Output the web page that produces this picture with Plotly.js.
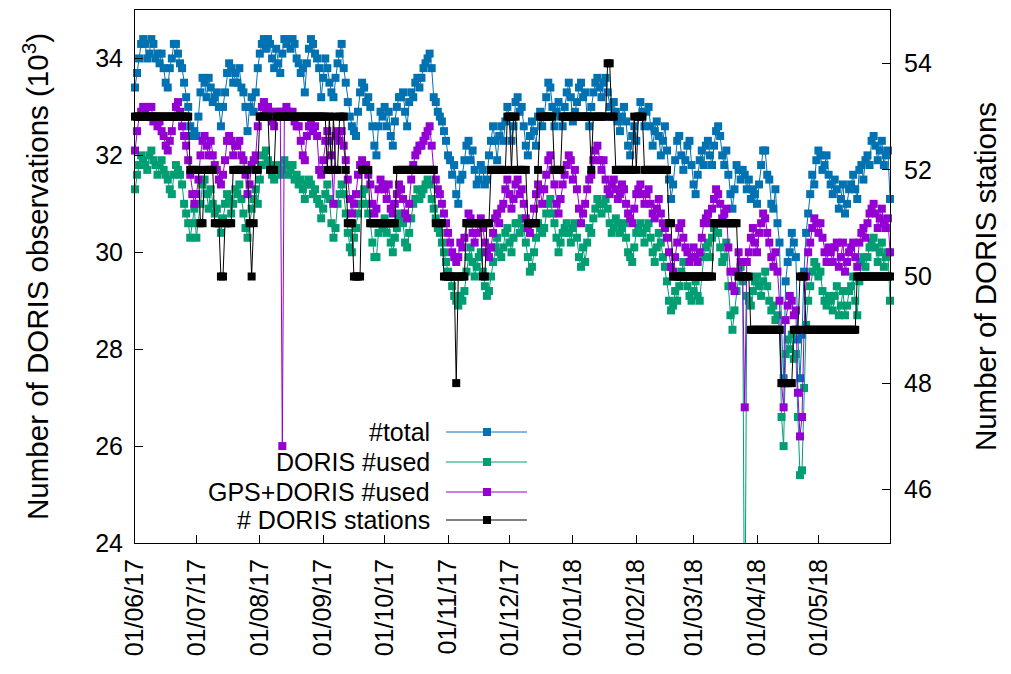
<!DOCTYPE html>
<html>
<head>
<meta charset="utf-8">
<script src="https://cdn.plot.ly/plotly-3.0.1.min.js"></script>
<style>html,body{margin:0;padding:0;background:#fff;}#chart{width:1011px;height:674px;}</style>
</head>
<body>
<div id="chart"></div>
<script>
// ---- data (daily, starting 2017-06-01) ----
const startDate = '2017-06-01';

const totalObs = [
33.4,33.7,34.0,34.3,34.4,34.3,34.0,34.1,34.4,34.3,
34.0,34.1,33.9,34.1,33.8,33.5,33.4,33.8,34.0,34.3,
34.3,34.1,33.9,33.8,33.5,33.2,33.0,32.6,32.4,32.5,
32.4,32.8,33.3,33.6,33.5,33.2,33.6,33.4,33.1,33.2,
33.3,33.0,32.6,33.0,33.3,33.7,33.9,33.8,33.5,33.7,
33.5,33.8,33.4,33.3,33.0,32.5,33.0,33.2,32.9,33.3,
33.8,34.1,34.3,34.4,34.2,34.4,34.3,34.0,33.8,34.2,
33.9,33.7,34.1,34.4,34.3,34.4,34.2,34.4,34.3,34.0,
33.9,33.7,33.8,33.3,33.9,34.2,34.4,34.3,34.1,34.0,
33.8,33.2,33.6,34.0,33.8,33.5,33.3,33.2,33.6,33.9,
34.1,34.3,33.8,33.5,33.1,32.8,32.6,32.5,32.4,32.9,
33.3,33.5,33.4,33.1,33.2,33.0,32.6,32.2,32.0,32.6,
32.9,32.8,33.0,32.6,32.9,32.4,32.2,32.7,33.0,33.2,
33.2,33.3,32.9,32.6,33.1,33.3,33.2,33.5,33.6,33.4,
33.6,33.8,33.9,34.0,34.1,33.8,33.2,33.1,32.9,32.8,
32.7,32.5,32.3,32.0,31.9,31.6,31.8,31.2,31.0,31.5,
31.6,31.9,32.2,32.3,31.9,32.1,31.7,31.4,31.5,31.8,
31.7,31.4,31.5,32.0,32.3,32.6,32.3,31.9,32.4,32.6,
32.3,32.7,33.0,32.8,32.3,32.6,33.1,33.2,32.9,33.0,
32.6,32.2,32.0,32.4,32.7,32.5,32.2,32.8,32.9,32.6,
32.8,33.2,33.5,33.4,33.0,32.6,32.9,33.1,32.8,32.6,
33.0,33.3,33.5,33.2,32.7,32.9,33.1,33.4,33.5,33.2,
33.3,32.8,32.6,33.0,33.3,33.5,33.6,33.4,33.2,33.5,
33.6,33.3,33.0,32.8,33.1,32.9,32.7,32.5,32.8,33.0,
32.7,32.2,32.0,32.4,32.6,32.3,32.8,33.1,32.9,32.6,
32.9,33.0,32.6,32.2,32.5,32.7,32.4,32.0,32.3,32.6,
32.1,31.5,31.1,31.4,31.9,32.3,32.4,32.0,31.7,31.9,
32.2,32.3,31.8,31.4,31.2,31.6,31.9,32.1,31.8,32.2,
32.3,32.0,31.8,32.2,32.5,32.6,32.4,32.0,31.8,32.1,
31.6,31.2,30.9,31.3,31.8,31.7,31.5,31.7,31.6,31.3,
31.5,31.1,31.3,31.2,31.0,31.4,31.8,32.1,32.1,31.6,
31.5,31.0,30.9,31.3,30.6,30.2,28.4,27.4,29.4,29.8,
30.0,30.4,30.2,29.9,28.2,27.4,28.3,29.6,30.4,30.8,
31.2,31.6,31.4,31.9,32.1,32.0,31.7,31.8,32.0,31.6,
31.4,31.2,31.5,31.3,30.9,31.1,31.4,30.8,31.0,31.3,
31.4,31.6,31.3,31.1,31.7,31.8,31.5,31.9,32.0,31.8,
32.3,32.4,32.2,31.9,32.1,32.3,31.8,32.0,32.1,31.1
];

const dorisUsed = [
31.3,31.6,31.8,32.0,31.9,31.8,31.7,32.0,32.1,31.9,
31.8,31.6,31.8,31.9,31.7,31.6,31.5,31.3,31.2,31.6,
31.8,31.7,31.6,31.4,31.0,30.8,30.6,30.3,30.6,30.9,
30.3,30.6,31.0,31.4,31.5,31.2,30.9,31.3,31.0,30.8,
30.9,30.6,30.4,30.7,31.0,31.2,31.1,30.8,31.0,31.3,
31.2,31.4,31.1,30.8,30.5,30.3,30.6,30.9,31.1,31.3,
31.0,31.5,31.8,32.0,32.1,31.9,31.8,31.6,31.5,31.7,
31.8,31.6,31.7,31.9,31.8,31.6,31.7,31.8,31.5,31.6,
31.4,31.5,31.3,31.1,31.4,31.5,31.4,31.2,31.3,31.1,
31.0,30.7,30.9,31.2,31.4,31.1,30.6,30.3,30.5,31.0,
31.2,31.4,31.2,30.8,30.4,30.1,30.0,30.3,30.5,30.8,
31.0,31.2,31.3,31.0,30.8,30.6,30.2,29.9,29.9,30.4,
30.6,30.5,30.7,30.4,30.6,30.2,30.0,30.3,30.5,30.7,
30.8,30.6,30.2,30.1,30.4,30.7,31.0,31.1,31.3,31.1,
31.2,31.3,31.4,31.5,31.4,31.1,30.9,30.7,30.5,30.4,
30.2,30.0,29.8,29.6,29.5,29.3,29.1,29.0,28.9,29.1,
29.0,29.2,29.6,29.9,30.1,29.8,29.5,29.7,29.9,30.0,
29.6,29.3,29.1,29.2,29.5,29.8,30.1,30.3,30.0,29.9,
30.1,30.4,30.5,30.2,30.0,30.3,30.6,30.6,30.4,30.7,
30.5,30.2,29.9,29.6,29.7,30.0,30.3,30.6,30.5,30.4,
30.5,30.8,31.0,31.1,30.8,30.6,30.3,30.0,30.2,30.4,
30.5,30.6,30.4,30.2,30.5,30.6,30.3,29.9,29.7,30.1,
29.8,30.2,30.5,30.4,30.7,30.9,31.1,31.0,30.8,31.0,
31.1,30.9,30.6,30.4,30.5,30.7,30.6,30.4,30.5,30.6,
30.3,30.0,29.9,29.8,30.1,30.4,30.5,30.6,30.4,30.2,
30.5,30.6,30.3,30.0,29.8,30.1,30.4,30.2,29.9,29.7,
29.4,29.0,28.8,28.9,29.2,29.0,29.3,29.6,29.8,29.5,
29.3,29.1,29.0,29.2,29.4,29.1,29.0,29.5,29.9,30.1,
30.2,29.9,30.3,30.5,30.6,30.4,30.1,29.8,29.9,30.2,
29.3,28.7,28.4,28.8,29.2,29.5,29.7,29.4,21.0,29.1,
29.0,28.9,29.2,29.4,29.5,29.3,29.1,29.4,29.6,29.3,
29.0,28.8,28.9,28.6,28.7,28.4,26.6,26.0,27.9,28.2,
28.0,28.3,27.8,27.9,26.6,25.4,25.5,27.2,28.5,29.0,
29.3,29.6,29.8,29.7,29.5,29.6,29.2,29.0,28.9,29.1,
29.0,28.8,29.1,29.3,28.7,28.9,29.2,28.7,28.9,29.2,
29.3,29.5,29.0,28.7,29.4,29.8,29.9,29.7,29.9,30.1,
30.2,30.3,30.1,29.8,30.0,30.2,29.7,29.9,30.0,29.0
];

const gpsDorisUsed = [
32.1,32.5,32.8,32.9,33.0,32.9,32.8,33.0,33.0,32.7,
32.8,32.6,32.7,32.5,32.4,32.2,32.1,32.3,32.5,32.8,
33.0,33.1,32.9,32.6,32.4,32.2,31.9,31.6,31.2,31.0,
31.2,31.5,32.0,32.3,32.4,32.2,32.0,32.3,32.0,31.8,
31.7,31.5,31.4,31.6,31.9,32.3,32.4,32.3,32.0,32.2,
32.2,32.3,32.0,31.9,31.6,31.2,31.4,31.8,31.9,32.0,
32.6,32.8,33.0,33.1,32.9,33.0,32.9,32.7,32.6,32.9,
32.8,32.9,26.0,32.9,33.0,32.9,32.8,32.9,32.7,32.6,
32.6,32.3,32.0,31.9,32.4,32.6,32.7,32.5,32.6,32.4,
31.7,31.6,31.9,32.3,32.5,32.3,32.0,31.0,32.4,32.5,
32.3,32.5,32.2,31.9,31.5,31.1,30.8,31.0,31.2,31.6,
31.8,31.9,31.7,31.8,31.6,31.4,31.0,30.8,30.9,31.3,
31.5,31.4,31.3,31.1,31.4,30.9,30.8,31.0,31.2,31.4,
31.3,31.1,30.8,30.7,31.0,31.5,31.8,32.0,32.1,32.2,
32.2,32.3,32.4,32.5,32.6,32.2,31.7,31.5,31.3,31.2,
31.0,30.8,30.6,30.4,30.2,30.0,29.9,29.8,29.9,30.2,
30.1,30.3,30.6,30.8,30.7,30.4,30.2,30.4,30.6,30.7,
30.5,30.2,30.0,29.9,30.1,30.4,30.7,30.8,30.6,30.9,
31.0,31.3,31.5,31.2,30.9,31.1,31.4,31.5,31.2,31.3,
31.0,30.7,30.5,30.4,30.6,30.9,31.2,31.4,31.3,31.0,
31.3,31.6,31.9,32.0,31.7,31.4,31.0,30.8,31.1,31.4,
31.6,31.8,32.0,31.9,31.5,31.7,31.3,30.9,30.6,30.8,
31.0,31.3,31.5,31.6,31.9,32.1,32.2,31.9,31.7,31.9,
31.5,31.3,31.2,31.4,31.5,31.3,31.1,31.2,31.4,31.3,
31.0,30.8,30.7,30.6,30.9,31.2,31.3,31.4,31.2,31.0,
31.2,31.3,31.0,30.8,30.7,30.9,31.1,30.8,30.6,30.5,
30.3,30.0,29.7,29.6,29.9,30.2,30.5,30.6,30.3,30.1,
30.0,29.8,29.9,30.1,29.9,29.8,30.0,30.3,30.6,30.7,
30.8,30.6,30.9,31.1,31.3,31.2,31.0,30.7,30.8,30.9,
30.1,29.6,29.3,29.2,29.6,30.0,29.8,29.5,26.8,29.8,
30.0,30.3,30.5,30.2,30.0,30.4,30.6,30.8,30.7,30.4,
30.2,29.9,29.7,30.0,29.6,29.0,27.3,26.8,28.6,28.9,
29.1,29.0,28.7,28.8,27.1,26.2,26.6,28.4,29.5,30.0,
30.2,30.5,30.7,30.6,30.4,30.6,30.3,30.0,29.8,30.1,
30.0,29.8,30.1,30.2,29.7,29.9,30.2,29.6,29.8,30.0,
30.1,30.2,29.9,29.7,30.2,30.4,30.5,30.3,30.6,30.8,
30.9,31.0,30.8,30.5,30.7,30.9,30.6,30.5,30.7,30.0
];

const dorisStations = [
53,53,53,53,53,53,53,53,53,53,
53,53,53,53,53,53,53,53,53,53,
53,53,53,53,53,53,53,52,52,52,
52,52,51,51,52,52,52,52,52,51,
51,51,50,50,51,51,51,51,52,52,
52,52,52,52,52,52,51,50,51,52,
52,53,53,53,53,53,52,52,52,53,
53,53,53,53,53,53,53,53,53,53,
53,53,53,53,53,53,53,53,53,53,
53,53,53,53,52,53,52,53,52,52,
53,53,53,52,51,51,51,50,50,50,
50,52,52,52,52,51,51,51,51,51,
51,51,51,51,51,51,51,51,52,52,
52,52,52,52,52,52,52,52,52,52,
52,52,52,52,52,52,52,51,51,51,
51,50,50,50,50,50,50,48,50,50,
50,50,51,51,51,51,51,51,51,51,
50,50,51,51,52,52,52,52,52,52,
52,52,53,53,52,53,53,52,52,52,
52,52,51,51,51,51,51,52,53,53,
53,53,53,53,53,52,52,52,52,53,
53,53,53,53,53,53,53,53,53,53,
53,53,53,52,53,53,53,53,53,53,
53,54,54,53,53,52,52,52,52,52,
52,52,52,52,53,52,53,53,53,52,
52,52,52,52,52,52,52,52,52,52,
52,51,51,50,50,50,50,50,50,50,
50,50,50,50,50,50,50,50,50,50,
50,50,50,51,51,51,51,51,51,51,
51,51,51,51,51,50,50,50,50,50,
50,49,49,49,49,49,49,49,49,49,
49,49,49,49,49,49,48,48,48,48,
48,48,49,49,49,50,50,50,49,49,
49,49,49,49,49,49,49,49,49,49,
49,49,49,49,49,49,49,49,49,49,
49,49,49,50,50,50,50,50,50,50,
50,50,50,50,50,50,50,50,50,50
];

const tickDates = ['2017-06-01','2017-07-01','2017-08-01','2017-09-01','2017-10-01','2017-11-01',
                   '2017-12-01','2018-01-01','2018-02-01','2018-03-01','2018-04-01','2018-05-01'];
const tickLabels = ['01/06/17','01/07/17','01/08/17','01/09/17','01/10/17','01/11/17',
                    '01/12/17','01/01/18','01/02/18','01/03/18','01/04/18','01/05/18'];
const leftTicks = [24,26,28,30,32,34];
const rightTicks = [46,48,50,52,54];
const seriesNames = ['#total','DORIS #used','GPS+DORIS #used','# DORIS stations'];
const seriesColors = ['#0072b2','#009e73','#9400d3','#000000'];

// ---- build daily dates ----
const dates = [];
const d0 = new Date(startDate + 'T00:00:00Z');
for (let i = 0; i < totalObs.length; i++) {
  const d = new Date(d0.getTime() + i * 86400000);
  dates.push(d.toISOString().slice(0, 10));
}

function trace(y, idx, axis) {
  return {
    x: dates, y: y, type: 'scatter', mode: 'lines+markers',
    name: seriesNames[idx], yaxis: axis, cliponaxis: false,
    line: {color: seriesColors[idx], width: 1},
    marker: {symbol: 'square', size: 8, color: seriesColors[idx]}
  };
}

const data = [
  trace(totalObs, 0, 'y'),
  trace(dorisUsed, 1, 'y'),
  trace(gpsDorisUsed, 2, 'y'),
  trace(dorisStations, 3, 'y2')
];

// ---- manual legend (text left of sample, as in the reference) ----
const W = 755, H = 533;
const px = v => (v - 135) / W;
const py = v => (543 - v) / H;
const legY = [432, 462, 492, 520];
const shapes = [];
const annotations = [];
legY.forEach((yy, i) => {
  annotations.push({xref: 'paper', yref: 'paper', x: px(432), y: py(yy), xanchor: 'right', yanchor: 'middle',
    text: seriesNames[i], showarrow: false, font: {size: 25, color: '#000'}});
  shapes.push({type: 'line', xref: 'paper', yref: 'paper', x0: px(446), x1: px(527), y0: py(yy), y1: py(yy),
    line: {color: seriesColors[i], width: 1}});
  shapes.push({type: 'rect', xref: 'paper', yref: 'paper', x0: px(483), x1: px(491), y0: py(yy + 4), y1: py(yy - 4),
    line: {width: 0}, fillcolor: seriesColors[i]});
});

const layout = {
  width: 1011, height: 674,
  margin: {l: 135, r: 121, t: 10, b: 131},
  paper_bgcolor: '#fff', plot_bgcolor: '#fff',
  showlegend: false,
  font: {family: 'Liberation Sans, Arial, sans-serif', size: 25, color: '#000'},
  xaxis: {
    type: 'date', range: [dates[0], dates[dates.length - 1]],
    tickvals: tickDates, ticktext: tickLabels, tickangle: -90,
    ticks: 'inside', ticklen: 8, tickcolor: '#000', ticklabelstandoff: 5,
    showline: true, linecolor: '#000', linewidth: 1, mirror: true,
    showgrid: false, zeroline: false, tickfont: {size: 25}
  },
  yaxis: {
    range: [24, 35], tickvals: leftTicks, ticktext: leftTicks.map(String),
    ticks: 'inside', ticklen: 8, tickcolor: '#000', ticklabelstandoff: 6,
    showline: true, linecolor: '#000', linewidth: 1,
    showgrid: false, zeroline: false, tickfont: {size: 25},
    title: {text: 'Number of DORIS observations (10<sup>3</sup>)', font: {size: 29.5}, standoff: 37}
  },
  yaxis2: {
    range: [45, 55], overlaying: 'y', side: 'right',
    tickvals: rightTicks, ticktext: rightTicks.map(String),
    ticks: 'inside', ticklen: 8, tickcolor: '#000', ticklabelstandoff: 8,
    showline: true, linecolor: '#000', linewidth: 1,
    showgrid: false, zeroline: false, tickfont: {size: 25},
    title: {text: 'Number of DORIS stations', font: {size: 29.5}, standoff: 44}
  },
  shapes: shapes,
  annotations: annotations
};

Plotly.newPlot('chart', data, layout, {displayModeBar: false, staticPlot: true});
</script>
</body>
</html>
